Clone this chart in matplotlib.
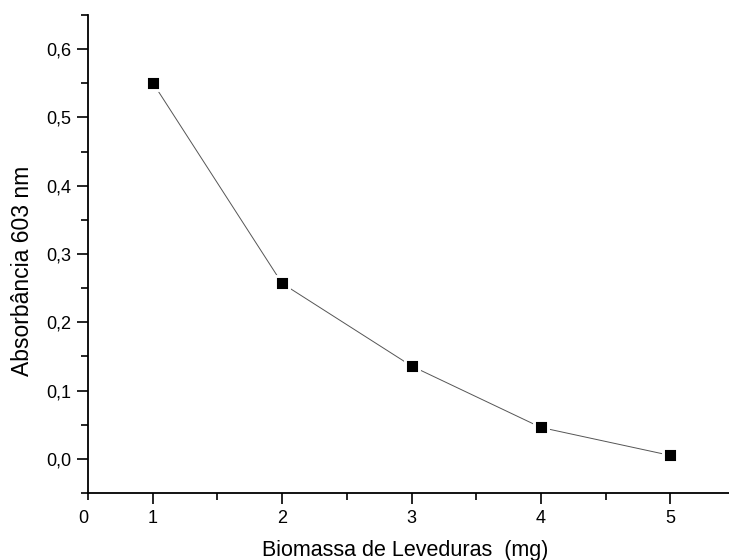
import numpy as np
import matplotlib.pyplot as plt
from matplotlib.ticker import MultipleLocator, FuncFormatter

plt.rcParams['font.family'] = ['Liberation Sans', 'DejaVu Sans']

# biomassa (mg) x absorbancia
biomassa = [1, 2, 3, 4, 5]
absorbancia = [0.551, 0.257, 0.136, 0.046, 0.005]

fig = plt.figure(figsize=(7.29, 5.6), dpi=100)
ax = fig.add_axes([88/729, 1 - 493/560, 647/729, 478/560])

# linha fina com falha perto dos pontos (estilo Origin)
ax.plot(biomassa, absorbancia, color='#555555', lw=0.7, zorder=2)
ax.plot(biomassa, absorbancia, ls='none', marker='s', ms=9.4, mfc='black',
        mec='white', mew=2.1, zorder=3)

ax.set_xlim(0.5, 5.5)
ax.set_ylim(-0.05, 0.65)

ax.spines['top'].set_visible(False)
ax.spines['right'].set_visible(False)
for s in ['left', 'bottom']:
    ax.spines[s].set_linewidth(1.3)

ax.set_xticks([0.5, 1, 2, 3, 4, 5])
ax.set_xticklabels(['0', '1', '2', '3', '4', '5'])
ax.xaxis.set_minor_locator(MultipleLocator(0.5))
ax.yaxis.set_major_locator(MultipleLocator(0.1))
ax.yaxis.set_minor_locator(MultipleLocator(0.05))
ax.yaxis.set_major_formatter(FuncFormatter(lambda v, p: f'{v:.1f}'.replace('.', ',')))

ax.tick_params(which='major', direction='out', length=8, width=1.2, labelsize=13, pad=4)
ax.tick_params(which='minor', direction='out', length=5, width=1.2)
ax.xaxis.get_major_ticks()[0].tick1line.set_markersize(5)
ax.get_xticklabels()[0].set_horizontalalignment('right')

ax.set_xlabel('Biomassa de Leveduras  (mg)', fontsize=15.5)
ax.set_ylabel('Absorbância 603 nm', fontsize=16.5)
ax.xaxis.set_label_coords(0.49, -0.098)
ax.yaxis.set_label_coords(-0.084, 0.464)

fig.savefig('out.png', dpi=100)
